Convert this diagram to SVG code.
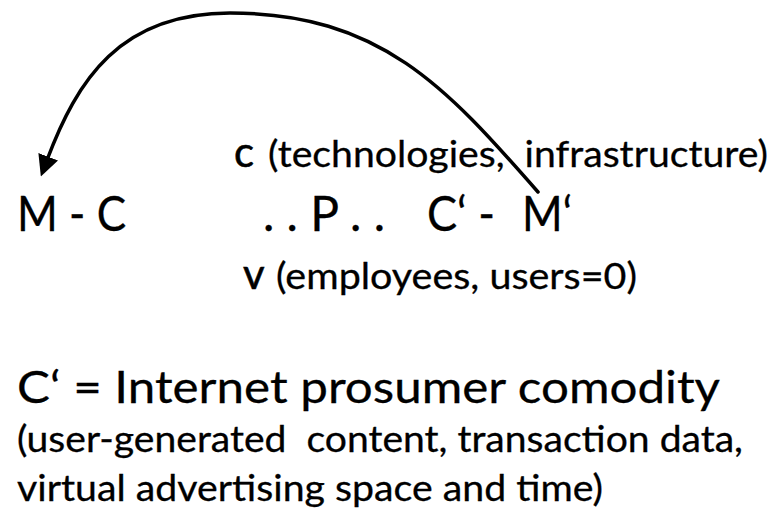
<svg xmlns="http://www.w3.org/2000/svg" width="774" height="518" viewBox="0 0 774 518">
  <style>
    text { font-family: Lato, "Liberation Sans", sans-serif; fill: #000; stroke: #000; stroke-width: 0.3; white-space: pre; }
    .big { font-size: 48px; }
    .mid { font-size: 45px; }
    .lbl { font-size: 36px; }
    .sym { font-size: 42px; stroke-width: 0.6; }
    .conn { fill: none; stroke: #000; stroke-width: 3.5; stroke-linecap: round; }
  </style>
  <defs>
    <marker id="arrow" markerWidth="6" markerHeight="6" refX="1" refY="3" orient="auto" markerUnits="strokeWidth" viewBox="0 0 6 6">
      <path d="M0,0 L6,3 L0,6 z" fill="#000"/>
    </marker>
  </defs>
  <rect width="774" height="518" fill="#fff"/>

  <g id="connectors">
    <path class="conn" d="M538,192 C446,87 380,13 230,13 C120,13 77,80 47,160" marker-end="url(#arrow)"/>
  </g>

  <g id="node-MC">
    <text class="big" x="17" y="231" textLength="109" lengthAdjust="spacingAndGlyphs">M - C</text>
  </g>
  <g id="node-P">
    <text class="big" x="263" y="231" textLength="122" lengthAdjust="spacingAndGlyphs">. . P . .</text>
  </g>
  <g id="node-CM">
    <text class="big" x="427" y="231" textLength="68" lengthAdjust="spacingAndGlyphs">C‘ -</text>
    <text class="big" x="522" y="231" textLength="50" lengthAdjust="spacingAndGlyphs">M‘</text>
  </g>
  <g id="label-c">
    <text class="sym" x="234" y="167">c</text>
    <text class="lbl" x="268" y="167" textLength="500" lengthAdjust="spacingAndGlyphs">(technologies,  infrastructure)</text>
  </g>
  <g id="label-v">
    <text class="sym" x="243" y="289">v</text>
    <text class="lbl" x="276" y="289" textLength="361" lengthAdjust="spacingAndGlyphs">(employees, users=0)</text>
  </g>
  <g id="definition">
    <text class="mid" x="17" y="403" textLength="703" lengthAdjust="spacingAndGlyphs">C‘ = Internet prosumer comodity</text>
    <text class="lbl" x="17" y="452" textLength="726" lengthAdjust="spacingAndGlyphs">(user-generated  content, transaction data,</text>
    <text class="lbl" x="17" y="501" textLength="586" lengthAdjust="spacingAndGlyphs">virtual advertising space and time)</text>
  </g>
</svg>
